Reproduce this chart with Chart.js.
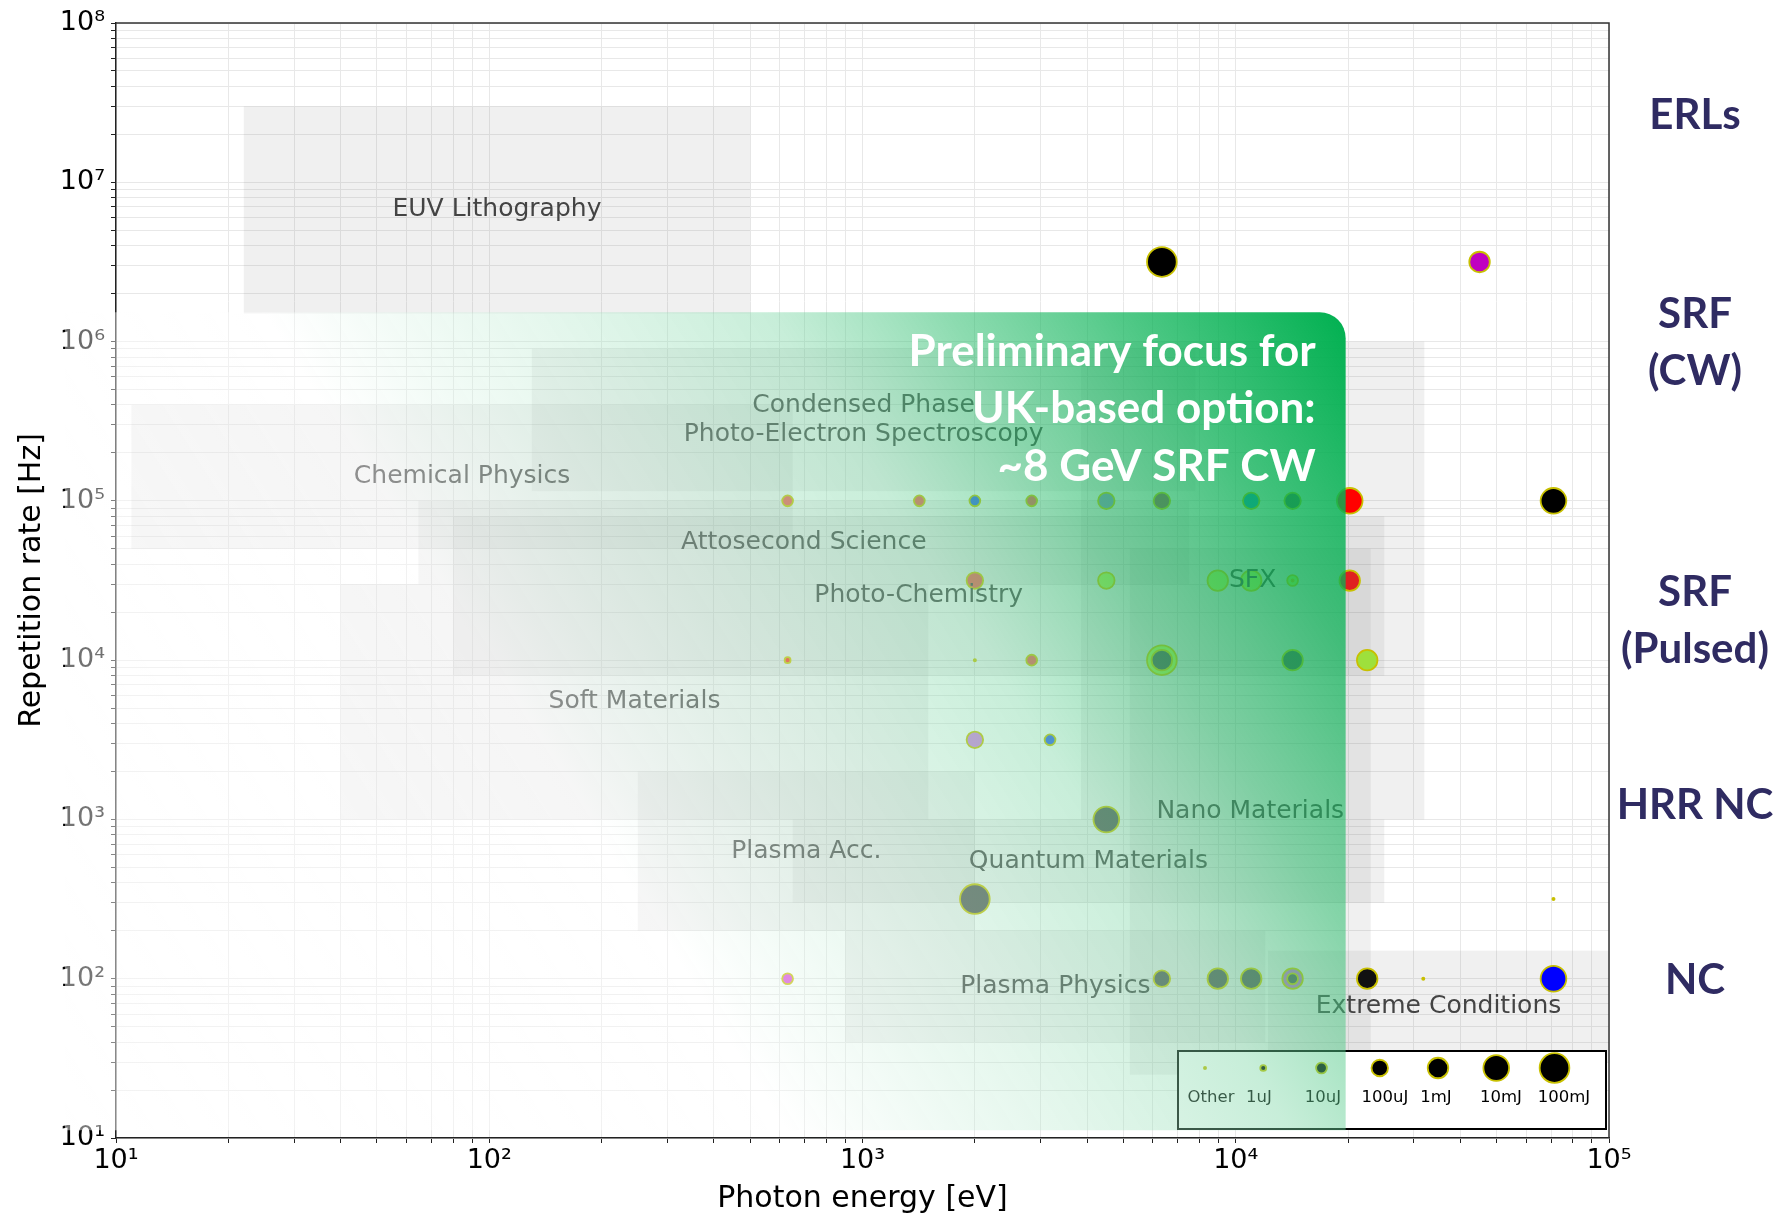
<!DOCTYPE html>
<html>
<head>
<meta charset="utf-8">
<title>Photon energy vs repetition rate</title>
<script src="https://cdn.jsdelivr.net/npm/chart.js@4.4.1/dist/chart.umd.min.js"></script>
<style>
  html, body { margin: 0; padding: 0; background: #ffffff; }
  canvas { display: block; }
</style>
</head>
<body>
<canvas id="chart" width="1779" height="1216"></canvas>
<script>
// ---- Facility / experiment points: photon energy [eV] vs repetition rate [Hz] ----
const photonEnergy = [
  6340, 45000,
  630, 1420, 2000, 2840, 4500, 6340, 11000, 14200, 20200, 71000,
  2000, 4500, 8950, 11000, 14200, 14200, 20200,
  630, 2000, 2840, 6340, 6340, 14200, 22500,
  2000, 3180,
  4500,
  2000, 71000,
  630, 6340, 8950, 11000, 14200, 14200, 22500, 31800, 71000
];
const repRate = [
  3.16e6, 3.16e6,
  1e5, 1e5, 1e5, 1e5, 1e5, 1e5, 1e5, 1e5, 1e5, 1e5,
  3.16e4, 3.16e4, 3.16e4, 3.16e4, 3.16e4, 3.16e4, 3.16e4,
  1e4, 1e4, 1e4, 1e4, 1e4, 1e4, 1e4,
  3.16e3, 3.16e3,
  1e3,
  316, 316,
  100, 100, 100, 100, 100, 100, 100, 100, 100
];
// pulse-energy class of each point (index into energyClasses)
const pulseClass = [
  6, 4,
  2, 2, 2, 2, 3, 3, 3, 3, 5, 5,
  3, 3, 4, 4, 2, 0, 4,
  1, 0, 2, 6, 4, 4, 4,
  3, 2,
  5,
  6, 0,
  2, 3, 4, 4, 4, 2, 4, 0, 5
];
const energyClasses = ['Other', '1uJ', '10uJ', '100uJ', '1mJ', '10mJ', '100mJ'];

// ---- Application regions (photon energy and repetition-rate ranges) ----
const regionNames = [
  'EUV Lithography', 'Chemical Physics', ['Condensed Phase', 'Photo-Electron Spectroscopy'],
  'Attosecond Science', 'Photo-Chemistry', 'Soft Materials', 'SFX', 'Nano Materials',
  'Quantum Materials', 'Plasma Acc.', 'Plasma Physics', 'Extreme Conditions'
];
const regionEnergyLo = [22, 11, 130, 64.6, 80, 40, 3850, 5200, 650, 250, 900, 12200];
const regionEnergyHi = [500, 650, 7800, 7500, 25000, 1500, 32000, 23000, 25000, 2000, 12000, 100000];
const regionRateLo   = [1.5e6, 5e4, 1.15e5, 3e4, 8e3, 1e3, 1e3, 25, 300, 200, 40, 30];
const regionRateHi   = [3e7, 4e5, 9e5, 1e5, 8e4, 3e4, 1e6, 5e4, 1000, 2000, 200, 150];

// ---- Accelerator technology bands (right-hand side) ----
const machineNames = [['ERLs'], ['SRF', '(CW)'], ['SRF', '(Pulsed)'], ['HRR NC'], ['NC']];
const machineRate  = [2.7e7, 1e6, 1.8e4, 1.25e3, 100];

// ---- Highlighted focus area ----
const focusEnergy = [7.3, 19700];
const focusRate   = [11.2, 1.53e6];
const focusText   = ['Preliminary focus for', 'UK-based option:', '~8 GeV SRF CW'];

// ---- Axis ticks ----
const xDecades = [1, 2, 3, 4, 5];
const yDecades = [1, 2, 3, 4, 5, 6, 7, 8];
const minorSteps = [2, 3, 4, 5, 6, 7, 8, 9];

// ---- Styles ----
const RED = '#f05a50', DARK = '#555555', BLUE = '#3060f0', LIME = '#b4ec50';
const pointFill = [
  '#000000', '#c000c0',
  RED, RED, BLUE, RED, '#8a90c0', '#a05058', '#2090d0', DARK, '#ff0000', '#000000',
  RED, LIME, LIME, LIME, LIME, '#4a9a4a', '#e02020',
  '#ff3020', '#a0d040', RED, LIME, DARK, DARK, '#9ee03c',
  '#d080e0', BLUE,
  DARK,
  DARK, '#e08000',
  '#dd44dd', DARK, DARK, DARK, '#c070c8', DARK, '#111111', '#e08000', '#0000ff'
];
const markerDiam = [4, 7.7, 12.6, 18.3, 22.3, 27.5, 31.5];
const markerEdge = '#c8c000';
const markerEdgeWidth = 1.8;
const SUP = { '1': '\u00b9', '2': '\u00b2', '3': '\u00b3', '4': '\u2074', '5': '\u2075',
              '6': '\u2076', '7': '\u2077', '8': '\u2078', '9': '\u2079' };
const NAVY = '#2f2b62';

function logTicks(decades) {
  const lo = decades[0], hi = decades[decades.length - 1];
  const ticks = [];
  for (let e = lo; e < hi; e++) {
    const base = Math.pow(10, e);
    ticks.push({ value: base });
    minorSteps.forEach(m => ticks.push({ value: m * base }));
  }
  ticks.push({ value: Math.pow(10, hi) });
  return ticks;
}
function powerLabel(v) {
  const e = Math.round(Math.log10(v));
  if (Math.abs(v - Math.pow(10, e)) > 1e-6 * v) return '';
  return '10' + String(e).split('').map(d => SUP[d] || d).join('');
}

function circle(ctx, x, y, r, fill) {
  ctx.beginPath();
  ctx.arc(x, y, r, 0, Math.PI * 2);
  ctx.fillStyle = fill;
  ctx.fill();
  ctx.lineWidth = markerEdgeWidth;
  ctx.strokeStyle = markerEdge;
  ctx.stroke();
}

const decorPlugin = {
  id: 'decor',
  beforeDatasetsDraw(chart) {
    const { ctx, chartArea: a, scales: { x, y } } = chart;
    ctx.save();
    ctx.beginPath();
    ctx.rect(a.left, a.top, a.right - a.left, a.bottom - a.top);
    ctx.clip();
    ctx.fillStyle = 'rgba(128,128,128,0.12)';
    regionNames.forEach((_, i) => {
      const x0 = x.getPixelForValue(regionEnergyLo[i]);
      const x1 = x.getPixelForValue(regionEnergyHi[i]);
      const y0 = y.getPixelForValue(regionRateHi[i]);
      const y1 = y.getPixelForValue(regionRateLo[i]);
      ctx.fillRect(x0, y0, x1 - x0, y1 - y0);
    });
    ctx.restore();
    // top and right frame lines
    ctx.save();
    ctx.strokeStyle = '#333';
    ctx.lineWidth = 1.5;
    ctx.beginPath();
    ctx.moveTo(a.left, a.top);
    ctx.lineTo(a.right, a.top);
    ctx.lineTo(a.right, a.bottom);
    ctx.stroke();
    ctx.restore();
  },
  afterDatasetsDraw(chart) {
    const { ctx, chartArea: a, scales: { x, y } } = chart;
    ctx.save();

    // region labels, centred on each region
    ctx.font = '25px "DejaVu Sans"';
    ctx.fillStyle = '#444';
    ctx.textAlign = 'center';
    ctx.textBaseline = 'middle';
    regionNames.forEach((name, i) => {
      const cx = (x.getPixelForValue(regionEnergyLo[i]) + x.getPixelForValue(regionEnergyHi[i])) / 2;
      const cy = (y.getPixelForValue(regionRateLo[i]) + y.getPixelForValue(regionRateHi[i])) / 2;
      const lines = Array.isArray(name) ? name : [name];
      const lh = 28.5;
      lines.forEach((ln, k) => {
        ctx.fillText(ln, cx, cy + (k - (lines.length - 1) / 2) * lh);
      });
    });

    // pulse-energy legend
    const lw = 428, lhgt = 78;
    const lx = a.right - 3 - lw, ly = a.bottom - 9 - lhgt;
    ctx.fillStyle = '#ffffff';
    ctx.fillRect(lx, ly, lw, lhgt);
    ctx.strokeStyle = '#000';
    ctx.lineWidth = 2;
    ctx.strokeRect(lx, ly, lw, lhgt);
    const labelCenters = [33, 81, 145, 207, 258, 323, 386];
    ctx.font = '16.5px "DejaVu Sans"';
    energyClasses.forEach((lab, i) => {
      circle(ctx, lx + 27 + i * 58.25, ly + 17, markerDiam[i] / 2 - markerEdgeWidth / 2, '#000');
      ctx.fillStyle = '#000';
      ctx.textAlign = 'center';
      ctx.textBaseline = 'middle';
      ctx.fillText(lab, lx + labelCenters[i], ly + 47);
    });

    // focus area: gradient panel with a rounded top-right corner
    const fx0 = x.getPixelForValue(focusEnergy[0]);
    const fx1 = x.getPixelForValue(focusEnergy[1]);
    const fy0 = y.getPixelForValue(focusRate[1]);
    const fy1 = y.getPixelForValue(focusRate[0]);
    const g = ctx.createLinearGradient(fx0, fy1, fx1, fy0);
    g.addColorStop(0.00, 'rgba(255,255,255,0.48)');
    g.addColorStop(0.40, 'rgba(255,255,255,0.40)');
    g.addColorStop(0.55, 'rgba(184,233,206,0.36)');
    g.addColorStop(0.68, 'rgba(122,214,164,0.42)');
    g.addColorStop(0.78, 'rgba(46,190,111,0.55)');
    g.addColorStop(0.88, 'rgba(8,178,85,0.72)');
    g.addColorStop(1.00, 'rgba(0,176,80,1.0)');
    const rad = 26;
    ctx.beginPath();
    ctx.moveTo(fx0, fy0);
    ctx.lineTo(fx1 - rad, fy0);
    ctx.arcTo(fx1, fy0, fx1, fy0 + rad, rad);
    ctx.lineTo(fx1, fy1);
    ctx.lineTo(fx0, fy1);
    ctx.closePath();
    ctx.fillStyle = g;
    ctx.fill();

    ctx.fillStyle = '#ffffff';
    ctx.font = 'bold 44px Lato';
    ctx.textAlign = 'right';
    ctx.textBaseline = 'alphabetic';
    const baselines = [54, 111, 169];
    focusText.forEach((t, i) => ctx.fillText(t, fx1 - 30, fy0 + baselines[i]));

    // accelerator technology labels
    ctx.fillStyle = NAVY;
    ctx.font = 'bold 42px Lato';
    ctx.textAlign = 'center';
    const mx = a.right + 86;
    machineNames.forEach((lines, i) => {
      const cy = y.getPixelForValue(machineRate[i]);
      lines.forEach((ln, k) => {
        const yy = cy + (k - (lines.length - 1) / 2) * 57;
        ctx.fillText(ln, mx, yy + 15);
      });
    });
    ctx.restore();
  }
};

const axisFont = { family: 'DejaVu Sans', size: 27 };
const gridStyle = { color: '#e8e8e8', lineWidth: 1, tickColor: '#222', tickLength: 5, drawTicks: true };

new Chart(document.getElementById('chart'), {
  type: 'scatter',
  data: {
    datasets: [{
      data: photonEnergy.map((e, i) => ({ x: e, y: repRate[i] })),
      backgroundColor: pointFill,
      borderColor: markerEdge,
      borderWidth: markerEdgeWidth,
      pointRadius: pulseClass.map(c => markerDiam[c] / 2 - markerEdgeWidth / 2),
      pointHoverRadius: pulseClass.map(c => markerDiam[c] / 2 - markerEdgeWidth / 2)
    }]
  },
  options: {
    responsive: false,
    animation: false,
    devicePixelRatio: 1,
    events: [],
    layout: { padding: { top: 23, right: 170, bottom: 0, left: 0 } },
    plugins: { legend: { display: false }, tooltip: { enabled: false } },
    scales: {
      x: {
        type: 'logarithmic',
        min: 10, max: 1e5,
        afterBuildTicks: s => { s.ticks = logTicks(xDecades); },
        afterFit: s => { s.height = 78; },
        ticks: { callback: v => powerLabel(v), autoSkip: false, maxRotation: 0, font: axisFont, color: '#000', padding: 2 },
        grid: gridStyle,
        border: { display: true, color: '#222', width: 1.5 },
        title: { display: true, text: 'Photon energy [eV]', color: '#000',
                 font: { family: 'DejaVu Sans', size: 30, lineHeight: 1 }, padding: { top: 0, bottom: 2 } }
      },
      y: {
        type: 'logarithmic',
        min: 10, max: 1e8,
        afterBuildTicks: s => { s.ticks = logTicks(yDecades); },
        afterFit: s => { s.width = 116; },
        ticks: { callback: v => powerLabel(v), autoSkip: false, font: axisFont, color: '#000', padding: 6 },
        grid: gridStyle,
        border: { display: true, color: '#222', width: 1.5 },
        title: { display: true, text: 'Repetition rate [Hz]', color: '#000',
                 font: { family: 'DejaVu Sans', size: 30, lineHeight: 1 }, padding: { top: 17, bottom: 0 } }
      }
    }
  },
  plugins: [decorPlugin]
});
</script>
</body>
</html>
